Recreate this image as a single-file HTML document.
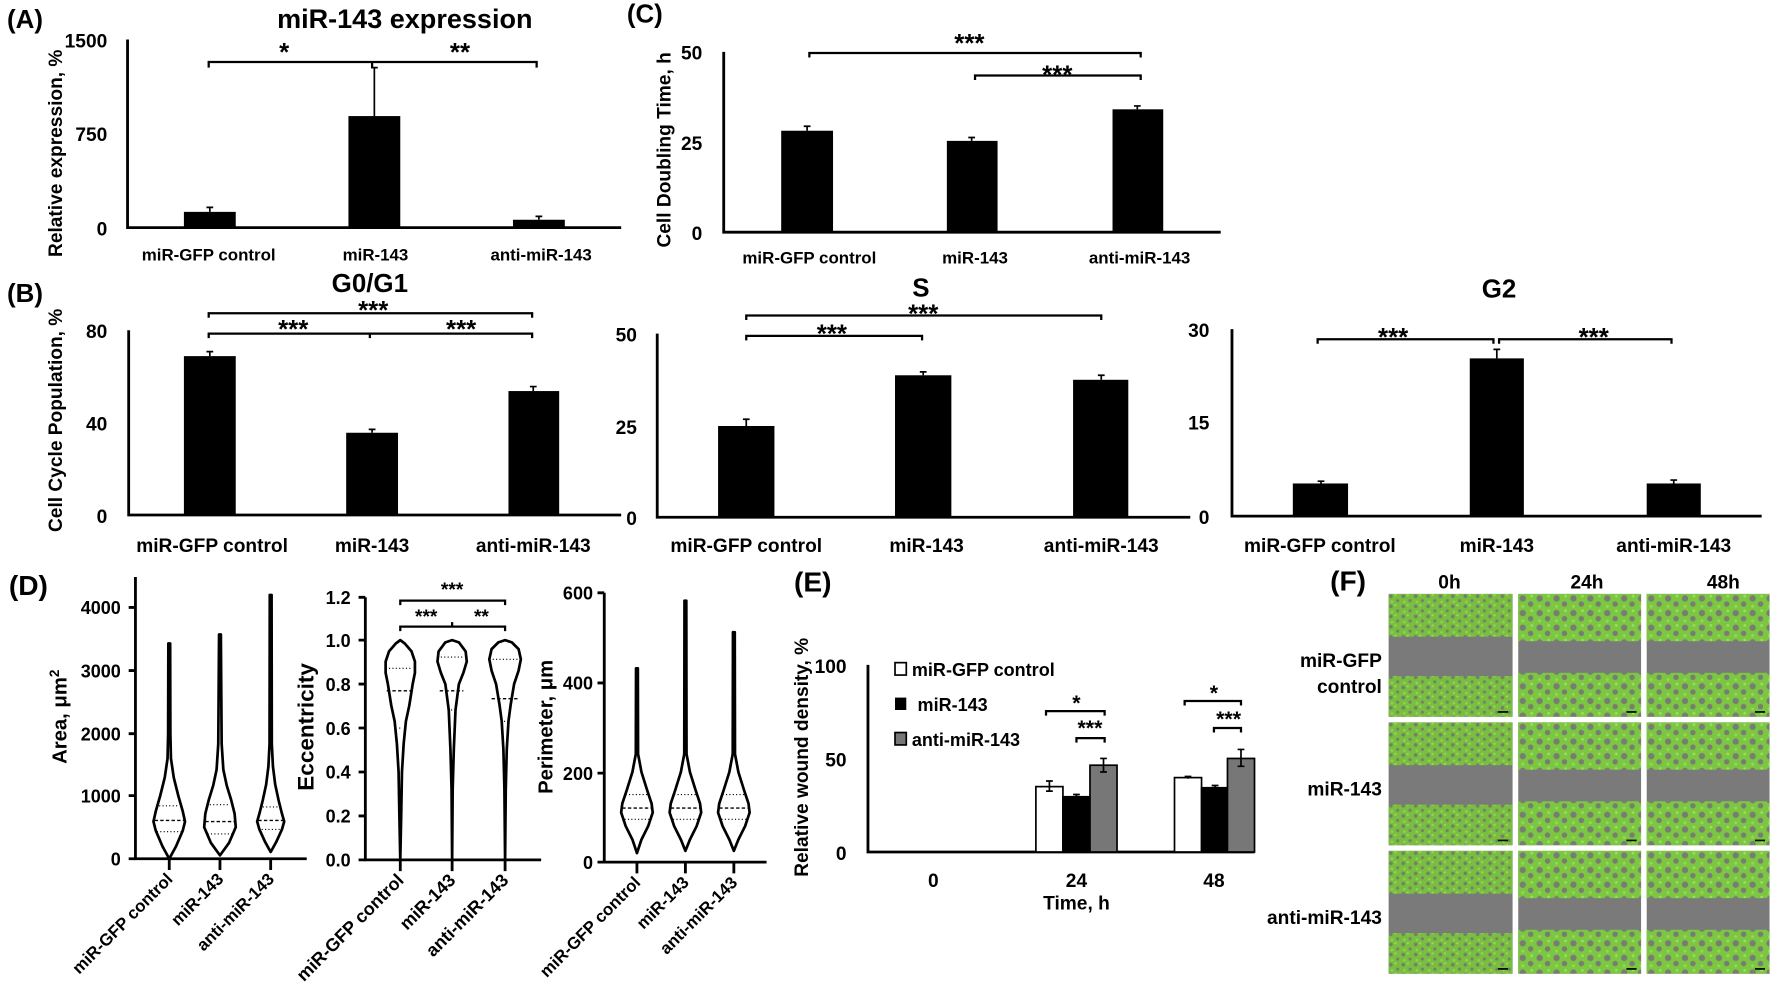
<!DOCTYPE html>
<html><head><meta charset="utf-8"><style>
html,body{margin:0;padding:0;background:#fff;}
svg{display:block;}
text{font-family:"Liberation Sans",Arial,sans-serif;font-weight:bold;fill:#000;}
</style></head><body>
<svg width="1772" height="1003" viewBox="0 0 1572 890" xmlns="http://www.w3.org/2000/svg">
<defs>
<pattern id="cells" width="11" height="9" patternUnits="userSpaceOnUse">
<rect width="11" height="9" fill="#79bd42"/>
<circle cx="2" cy="2" r="1.6" fill="#747f68"/>
<circle cx="8" cy="6" r="1.4" fill="#768266"/>
<circle cx="6" cy="1" r="1" fill="#94de4e"/>
<circle cx="3" cy="7" r="1.1" fill="#8fd84a"/>
</pattern>
<pattern id="cells2" width="15" height="13" patternUnits="userSpaceOnUse">
<rect width="15" height="13" fill="#7cc644"/>
<circle cx="4" cy="4" r="2.8" fill="#777d70"/>
<circle cx="11" cy="9" r="2.4" fill="#777d70"/>
<circle cx="12" cy="2" r="1.2" fill="#98e452"/>
<circle cx="4" cy="11" r="1.3" fill="#92dc4c"/>
</pattern>
<g id="tile0"><rect width="110" height="109" fill="#7a7a7a"/><rect width="110" height="38" fill="url(#cells)"/><rect y="73" width="110" height="36" fill="url(#cells)"/><rect x="97" y="104" width="9" height="1.5" fill="#000"/></g>
<g id="tile1"><rect width="109" height="109" fill="#7a7a7a"/><rect width="109" height="42" fill="url(#cells2)"/><rect y="70" width="109" height="39" fill="url(#cells2)"/><rect x="96" y="104" width="9" height="1.5" fill="#000"/></g>
</defs>

<g stroke="#000" stroke-width="2.5" fill="none">
<path d="M113,35 V202 H551"/>
<path d="M642,46 V206 H1083"/>
<path d="M114,293 V457 H551"/>
<path d="M583,296 V459 H1056"/>
<path d="M1093,292 V458 H1563"/>
<path d="M120,512 V762 H272"/>
<path d="M324,530 V763 H480"/>
<path d="M536,526 V765 H680"/>
<path d="M770,590 V756 H1113"/>
</g>

<g stroke="#000" stroke-width="2.5">
<path d="M114,539H120M114,595H120M114,651H120M114,706H120M114,762H120"/>
<path d="M150,762V772M195,762V772M240,762V772"/>
<path d="M318,530H324M318,568H324M318,607H324M318,646H324M318,685H324M318,724H324M318,763H324"/>
<path d="M355,763V773M401,763V773M448,763V773"/>
<path d="M530,526H536M530,606H536M530,686H536M530,765H536"/>
<path d="M565,765V775M608,765V775M651,765V775"/>
</g>

<!-- Panel A -->
<text x="22" y="25" font-size="23" text-anchor="middle">(A)</text>
<text x="359" y="25" font-size="24" text-anchor="middle">miR-143 expression</text>
<g font-size="17" text-anchor="end"><text x="95" y="42">1500</text><text x="95" y="125">750</text><text x="95" y="209">0</text></g>
<text transform="translate(55,136) rotate(-90)" font-size="17" text-anchor="middle">Relative expression, %</text>
<rect x="163" y="188" width="46" height="14"/><rect x="309" y="103" width="46" height="99"/><rect x="455" y="195" width="46" height="7"/>
<g stroke="#000" stroke-width="1.5"><path d="M186,188V184M183,184H189M332,103V60M329,60H335M478,195V192M475,192H481"/></g>
<g stroke="#000" stroke-width="2" fill="none"><path d="M185,60V55H330V60M330,55H476V60"/></g>
<g font-size="23" text-anchor="middle"><text x="252" y="54">*</text><text x="408" y="54">**</text></g>
<g font-size="15" text-anchor="middle"><text x="185" y="231">miR-GFP control</text><text x="333" y="231">miR-143</text><text x="480" y="231">anti-miR-143</text></g>

<!-- Panel C -->
<text x="572" y="20" font-size="23" text-anchor="middle">(C)</text>
<g font-size="17" text-anchor="end"><text x="623" y="53">50</text><text x="623" y="133">25</text><text x="623" y="213">0</text></g>
<text transform="translate(595,133) rotate(-90)" font-size="17" text-anchor="middle">Cell Doubling Time, h</text>
<rect x="693" y="116" width="46" height="90"/><rect x="840" y="125" width="45" height="81"/><rect x="987" y="97" width="45" height="109"/>
<g stroke="#000" stroke-width="1.5"><path d="M716,116V112M713,112H719M862,125V122M859,122H865M1009,97V94M1006,94H1012"/></g>
<g stroke="#000" stroke-width="2" fill="none"><path d="M718,51V47H1012V51M865,71V67H1012V71"/></g>
<g font-size="23" text-anchor="middle"><text x="860" y="46">***</text><text x="938" y="74">***</text></g>
<g font-size="15" text-anchor="middle"><text x="718" y="234">miR-GFP control</text><text x="865" y="234">miR-143</text><text x="1011" y="234">anti-miR-143</text></g>

<!-- Panel B G0/G1 -->
<text x="22" y="268" font-size="23" text-anchor="middle">(B)</text>
<text x="328" y="259" font-size="23" text-anchor="middle">G0/G1</text>
<g font-size="17" text-anchor="end"><text x="95" y="300">80</text><text x="95" y="382">40</text><text x="95" y="464">0</text></g>
<text transform="translate(55,373) rotate(-90)" font-size="17" text-anchor="middle">Cell Cycle Population, %</text>
<rect x="163" y="316" width="46" height="141"/><rect x="307" y="384" width="46" height="73"/><rect x="451" y="347" width="45" height="110"/>
<g stroke="#000" stroke-width="1.5"><path d="M186,316V312M183,312H189M330,384V381M327,381H333M473,347V343M470,343H476"/></g>
<g stroke="#000" stroke-width="2" fill="none"><path d="M185,282V278H472V282M185,300V296H328V300M328,296H472V300"/></g>
<g font-size="23" text-anchor="middle"><text x="331" y="283">***</text><text x="260" y="300">***</text><text x="409" y="300">***</text></g>
<g font-size="17" text-anchor="middle"><text x="188" y="490">miR-GFP control</text><text x="330" y="490">miR-143</text><text x="473" y="490">anti-miR-143</text></g>

<!-- Panel S -->
<text x="817" y="263" font-size="23" text-anchor="middle">S</text>
<g font-size="17" text-anchor="end"><text x="565" y="303">50</text><text x="565" y="385">25</text><text x="565" y="466">0</text></g>
<rect x="637" y="378" width="50" height="81"/><rect x="794" y="333" width="50" height="126"/><rect x="952" y="337" width="49" height="122"/>
<g stroke="#000" stroke-width="1.5"><path d="M662,378V372M659,372H665M819,333V330M816,330H822M977,337V333M974,333H980"/></g>
<g stroke="#000" stroke-width="2" fill="none"><path d="M662,284V280H977V284M662,302V298H818V302"/></g>
<g font-size="23" text-anchor="middle"><text x="819" y="286">***</text><text x="738" y="304">***</text></g>
<g font-size="17" text-anchor="middle"><text x="662" y="490">miR-GFP control</text><text x="822" y="490">miR-143</text><text x="977" y="490">anti-miR-143</text></g>

<!-- Panel G2 -->
<text x="1330" y="264" font-size="23" text-anchor="middle">G2</text>
<g font-size="17" text-anchor="end"><text x="1073" y="299">30</text><text x="1073" y="381">15</text><text x="1073" y="465">0</text></g>
<rect x="1147" y="429" width="49" height="29"/><rect x="1304" y="318" width="48" height="140"/><rect x="1461" y="429" width="48" height="29"/>
<g stroke="#000" stroke-width="1.5"><path d="M1172,429V427M1169,427H1175M1328,318V310M1325,310H1331M1485,429V426M1482,426H1488"/></g>
<g stroke="#000" stroke-width="2" fill="none"><path d="M1169,305V301H1325V305M1330,305V301H1483V305"/></g>
<g font-size="23" text-anchor="middle"><text x="1236" y="307">***</text><text x="1414" y="307">***</text></g>
<g font-size="17" text-anchor="middle"><text x="1171" y="490">miR-GFP control</text><text x="1328" y="490">miR-143</text><text x="1485" y="490">anti-miR-143</text></g>

<!-- Panel D -->
<text x="25" y="528" font-size="25" text-anchor="middle">(D)</text>
<g font-size="16" text-anchor="end">
<text x="107" y="545">4000</text><text x="107" y="601">3000</text><text x="107" y="657">2000</text><text x="107" y="712">1000</text><text x="107" y="768">0</text>
<text x="311" y="536">1.2</text><text x="311" y="574">1.0</text><text x="311" y="613">0.8</text><text x="311" y="652">0.6</text><text x="311" y="691">0.4</text><text x="311" y="730">0.2</text><text x="311" y="769">0.0</text>
<text x="526" y="532">600</text><text x="526" y="612">400</text><text x="526" y="692">200</text><text x="526" y="771">0</text>
</g>
<text transform="translate(59,636) rotate(-90)" font-size="18" text-anchor="middle">Area, μm<tspan font-size="12" dy="-7">2</tspan></text>
<text transform="translate(278,645) rotate(-90)" font-size="20" text-anchor="middle">Eccentricity</text>
<text transform="translate(490,645) rotate(-90)" font-size="18" text-anchor="middle">Perimeter, μm</text>

<g fill="#fff" stroke="#000" stroke-width="2.4" stroke-linejoin="round">
<path transform="translate(150,0)" d="M0,762 L6,751 L12,737 L14,729 L12,720 L8,706 L4,690 L1.5,673 L1,651 L0.8,571 L-0.8,571 L-1,651 L-1.5,673 L-4,690 L-8,706 L-12,720 L-14,729 L-12,737 L-6,751 Z"/>
<path transform="translate(195,0)" d="M0,759 L8,748 L14,734 L13,722 L10,710 L6,697 L3,683 L1.5,660 L0.8,563 L-0.8,563 L-1.5,660 L-3,683 L-6,697 L-10,710 L-13,722 L-14,734 L-8,748 Z"/>
<path transform="translate(240,0)" d="M0,756 L5,747 L10,736 L12,729 L10,722 L7,710 L4,696 L2,680 L1,660 L0.8,528 L-0.8,528 L-1,660 L-2,680 L-4,696 L-7,710 L-10,722 L-12,729 L-10,736 L-5,747 Z"/>
<path transform="translate(355,0)" d="M0,763 L0.8,724 L1.5,685 L3,660 L5,640 L8,626 L11,607 L13,597 L13,587 L10,578 L4,571 L0,568 L-4,571 L-10,578 L-13,587 L-13,597 L-11,607 L-8,626 L-5,640 L-3,660 L-1.5,685 L-0.8,724 Z"/>
<path transform="translate(401,0)" d="M0,763 L0.5,700 L1.5,665 L3,630 L6,607 L10,597 L13,587 L12,578 L6,570 L0,568 L-6,570 L-12,578 L-13,587 L-10,597 L-6,607 L-3,630 L-1.5,665 L-0.5,700 Z"/>
<path transform="translate(448,0)" d="M0,763 L0.6,700 L1.5,665 L3,640 L5,625 L8,607 L12,595 L14,585 L12,576 L6,570 L0,568 L-6,570 L-12,576 L-14,585 L-12,595 L-8,607 L-5,625 L-3,640 L-1.5,665 L-0.6,700 Z"/>
<path transform="translate(565,0)" d="M0,757 L4,745 L10,733 L14,721 L13,713 L9,701 L4,685 L1,669 L0.8,593 L-0.8,593 L-1,669 L-4,685 L-9,701 L-13,713 L-14,721 L-10,733 L-4,745 Z"/>
<path transform="translate(608,0)" d="M0,755 L4,745 L10,733 L14,721 L13,713 L9,701 L4,685 L1,669 L0.8,533 L-0.8,533 L-1,669 L-4,685 L-9,701 L-13,713 L-14,721 L-10,733 L-4,745 Z"/>
<path transform="translate(651,0)" d="M0,755 L4,745 L10,733 L14,721 L13,713 L9,701 L4,685 L1,669 L0.8,561 L-0.8,561 L-1,669 L-4,685 L-9,701 L-13,713 L-14,721 L-10,733 L-4,745 Z"/>
</g>
<g stroke="#000" stroke-width="1.2" stroke-dasharray="3,2">
<path d="M137,728H163M182,729H208M229,728H251M343,613H367M390,613H411M436,620H461M552,717H578M595,717H621M638,717H664"/>
</g>
<g stroke="#000" stroke-width="1" stroke-dasharray="1,2">
<path d="M139,738H161M141,715H159M184,740H206M186,714H204M232,736H248M233,716H247M345,593H366M354,646H356M391,583H412M400,630H402M437,585H459M447,640H449M554,727H576M555,705H575M597,727H619M598,705H618M640,727H662M641,705H661"/>
</g>
<g stroke="#000" stroke-width="2" fill="none"><path d="M355,537V533H448V537M355,560V556H448V560M401,556V552"/></g>
<g font-size="17" text-anchor="middle"><text x="401" y="529">***</text><text x="378" y="553">***</text><text x="427" y="553">**</text></g>
<g font-size="15" text-anchor="end">
<text transform="translate(154,781) rotate(-45)">miR-GFP control</text>
<text transform="translate(199,781) rotate(-45)">miR-143</text>
<text transform="translate(244,781) rotate(-45)">anti-miR-143</text>
<text transform="translate(359,782) rotate(-45)" font-size="16">miR-GFP control</text>
<text transform="translate(405,782) rotate(-45)" font-size="16">miR-143</text>
<text transform="translate(452,782) rotate(-45)" font-size="16">anti-miR-143</text>
<text transform="translate(569,784) rotate(-45)">miR-GFP control</text>
<text transform="translate(612,784) rotate(-45)">miR-143</text>
<text transform="translate(655,784) rotate(-45)">anti-miR-143</text>
</g>

<!-- Panel E -->
<text x="721" y="525" font-size="25" text-anchor="middle">(E)</text>
<g font-size="17" text-anchor="end"><text x="751" y="597">100</text><text x="751" y="680">50</text><text x="751" y="763">0</text></g>
<text transform="translate(717,672) rotate(-90)" font-size="17" text-anchor="middle">Relative wound density, %</text>
<rect x="794" y="588" width="10" height="11" fill="#fff" stroke="#000" stroke-width="1.5"/>
<rect x="794" y="619" width="10" height="11" fill="#000"/>
<rect x="794" y="650" width="10" height="11" fill="#777" stroke="#000" stroke-width="1.5"/>
<g font-size="16"><text x="809" y="600">miR-GFP control</text><text x="814" y="631">miR-143</text><text x="809" y="662">anti-miR-143</text></g>
<g stroke="#000" stroke-width="1.5">
<rect x="919" y="698" width="24" height="58" fill="#fff"/><rect x="943" y="707" width="24" height="49" fill="#000"/><rect x="967" y="679" width="24" height="77" fill="#777"/>
<rect x="1042" y="690" width="24" height="66" fill="#fff"/><rect x="1066" y="699" width="23" height="57" fill="#000"/><rect x="1089" y="673" width="24" height="83" fill="#777"/>
<path d="M931,693V702M928,693H934M928,702H934M955,705V708M952,705H958M979,673V685M976,673H982M976,685H982M1054,689V691M1051,689H1057M1078,697V700M1075,697H1081M1101,665V680M1098,665H1104M1098,680H1104" fill="none"/>
</g>
<g stroke="#000" stroke-width="2" fill="none"><path d="M928,635V631H980V635M955,659V655H980V659M1051,626V622H1101V626M1077,650V646H1101V650"/></g>
<g font-size="19" text-anchor="middle"><text x="955" y="630">*</text><text x="967" y="652">***</text><text x="1077" y="621">*</text><text x="1090" y="644">***</text></g>
<g font-size="17" text-anchor="middle"><text x="828" y="787">0</text><text x="955" y="787">24</text><text x="1077" y="787">48</text><text x="955" y="807">Time, h</text></g>

<!-- Panel F -->
<text x="1196" y="524" font-size="25" text-anchor="middle">(F)</text>
<g font-size="17" text-anchor="middle"><text x="1286" y="522">0h</text><text x="1408" y="522">24h</text><text x="1529" y="522">48h</text></g>
<use href="#tile0" x="1232" y="527"/><use href="#tile1" x="1347" y="527"/><use href="#tile1" x="1461" y="527"/>
<use href="#tile0" x="1232" y="641"/><use href="#tile1" x="1347" y="641"/><use href="#tile1" x="1461" y="641"/>
<use href="#tile0" x="1232" y="755"/><use href="#tile1" x="1347" y="755"/><use href="#tile1" x="1461" y="755"/>
<g font-size="17" text-anchor="end"><text x="1226" y="592">miR-GFP</text><text x="1226" y="615">control</text><text x="1226" y="706">miR-143</text><text x="1226" y="820">anti-miR-143</text></g>
</svg>
</body></html>
